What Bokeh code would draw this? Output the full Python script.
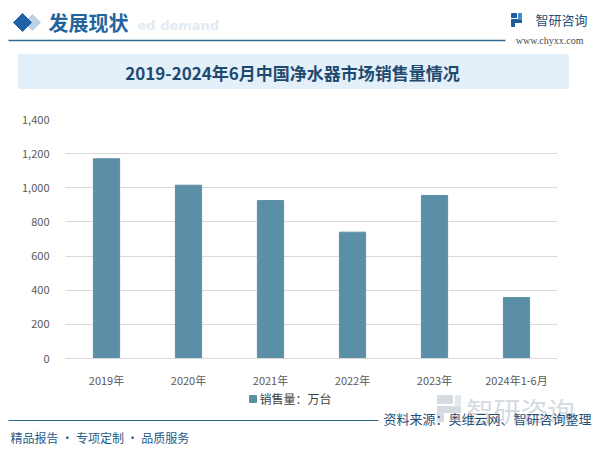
from bokeh.plotting import figure
from bokeh.layouts import column
from bokeh.models import (Range1d, FactorRange, FixedTicker, NumeralTickFormatter,
                          Label, ColumnDataSource)
from bokeh.embed import file_html
from bokeh.resources import INLINE

# ---- data ----
categories = ["2019年", "2020年", "2021年", "2022年", "2023年", "2024年1-6月"]
sales = [1170, 1015, 925, 740, 955, 357]
y_ticks = [0, 200, 400, 600, 800, 1000, 1200, 1400]
title_text = "2019-2024年6月中国净水器市场销售量情况"
series_name = "销售量：万台"
source_text = "资料来源：奥维云网、智研咨询整理"
footer_text = "精品报告 · 专项定制 · 品质服务"

BAR = "#5b8fa8"
CJK = "Noto Sans CJK SC"


def deco_fig(h, y_top):
    f = figure(width=600, height=h, x_range=Range1d(0, 600),
               y_range=Range1d(y_top + h, y_top), output_backend="svg",
               toolbar_location=None, x_axis_location=None, y_axis_location=None,
               min_border=0, outline_line_color=None, frame_align=False)
    f.xgrid.visible = False
    f.ygrid.visible = False
    f.background_fill_color = "white"
    f.border_fill_color = "white"
    return f


# ---- header ----
top = deco_fig(95, 0)
top.patch([32, 40, 32, 24], [14, 22, 30, 22], color="#bcd3e6")
top.patch([22, 31, 22, 13], [13, 22, 31, 22], color="#1f63a6")
top.add_layout(Label(x=137, y=25, text="ed demand", text_font="DejaVu Sans",
                     text_font_size="13px", text_font_style="bold",
                     text_color="#e1ebf4", text_baseline="middle"))
top.add_layout(Label(x=48, y=22, text="发展现状", text_font=CJK, text_font_size="20px",
                     text_font_style="bold", text_color="#2463a0",
                     text_baseline="middle"))
top.segment(x0=[8], y0=[40], x1=[505], y1=[40], line_color="#2c6b8e", line_width=1.5)
# logo
top.quad(left=[511], right=[516], top=[13], bottom=[17], color="#1f5c99")
top.quad(left=[511], right=[521], top=[19], bottom=[22], color="#1f5c99")
top.quad(left=[518], right=[521], top=[13], bottom=[19], color="#3a8fd0")
top.quad(left=[511], right=[514], top=[22], bottom=[26], color="#1f5c99")
top.add_layout(Label(x=535, y=19, text="智研咨询", text_font=CJK, text_font_size="13px",
                     text_color="#1f4e79", text_baseline="middle"))
top.add_layout(Label(x=583, y=40, text="www.chyxx.com", text_font="Liberation Serif",
                     text_font_size="10px", text_color="#4a4a4a",
                     text_baseline="middle", text_align="right"))
# banner
top.quad(left=[18], right=[568], top=[54], bottom=[88], color="#e3f0f9")
top.add_layout(Label(x=292, y=72, text=title_text, text_font=CJK, text_font_size="17px",
                     text_font_style="bold", text_color="#1f4a70",
                     text_baseline="middle", text_align="center"))

# ---- chart ----
src = ColumnDataSource(dict(cat=categories, val=sales))
p = figure(width=600, height=295, x_range=FactorRange(*categories),
           y_range=Range1d(0, 1400), output_backend="svg", toolbar_location=None,
           min_border_left=65, min_border_right=43, min_border_top=24,
           min_border_bottom=32, outline_line_color=None, frame_align=False)
p.vbar(x="cat", top="val", width=0.32, source=src, color=BAR)
p.xgrid.visible = False
p.ygrid.grid_line_color = "#d9d9d9"
p.yaxis.ticker = FixedTicker(ticks=y_ticks)
p.yaxis.formatter = NumeralTickFormatter(format="0,0")
p.yaxis.axis_line_color = None
p.yaxis.major_tick_line_color = None
p.yaxis.minor_tick_line_color = None
p.yaxis.major_label_standoff = 10
p.xaxis.axis_line_color = "#d9d9d9"
p.xaxis.major_tick_line_color = None
p.xaxis.minor_tick_line_color = None
p.xaxis.major_label_standoff = 7
for ax in (p.xaxis, p.yaxis):
    ax.major_label_text_font = CJK
    ax.major_label_text_font_size = "11px"
    ax.major_label_text_color = "#595959"

# ---- footer ----
bot = deco_fig(60, 390)
# watermark logo
bot.quad(left=[437], right=[452], top=[395], bottom=[403], color="#d5dbe1")
bot.quad(left=[437], right=[460], top=[406], bottom=[412], color="#d5dbe1")
bot.quad(left=[455], right=[460], top=[395], bottom=[406], color="#e3e8ec")
bot.quad(left=[437], right=[443], top=[412], bottom=[421], color="#d5dbe1")
bot.add_layout(Label(x=466, y=410, text="智研咨询", text_font=CJK, text_font_size="27px",
                     text_color="#d5dbe1", text_baseline="middle"))
# legend
bot.quad(left=[249], right=[256], top=[395], bottom=[402], color=BAR)
bot.add_layout(Label(x=259, y=398, text=series_name, text_font=CJK, text_font_size="12px",
                     text_color="#404040", text_baseline="middle"))
bot.segment(x0=[8], y0=[420], x1=[378], y1=[420], line_color="#2c6b8e", line_width=1)
bot.add_layout(Label(x=591, y=418, text=source_text, text_font=CJK, text_font_size="13px",
                     text_color="#1f4e79", text_baseline="middle", text_align="right"))
bot.add_layout(Label(x=10, y=437, text=footer_text, text_font=CJK, text_font_size="12px",
                     text_color="#1f5c8a", text_baseline="middle"))

layout = column(top, p, bot, spacing=0)
open("out.html", "w").write(file_html(layout, INLINE))
